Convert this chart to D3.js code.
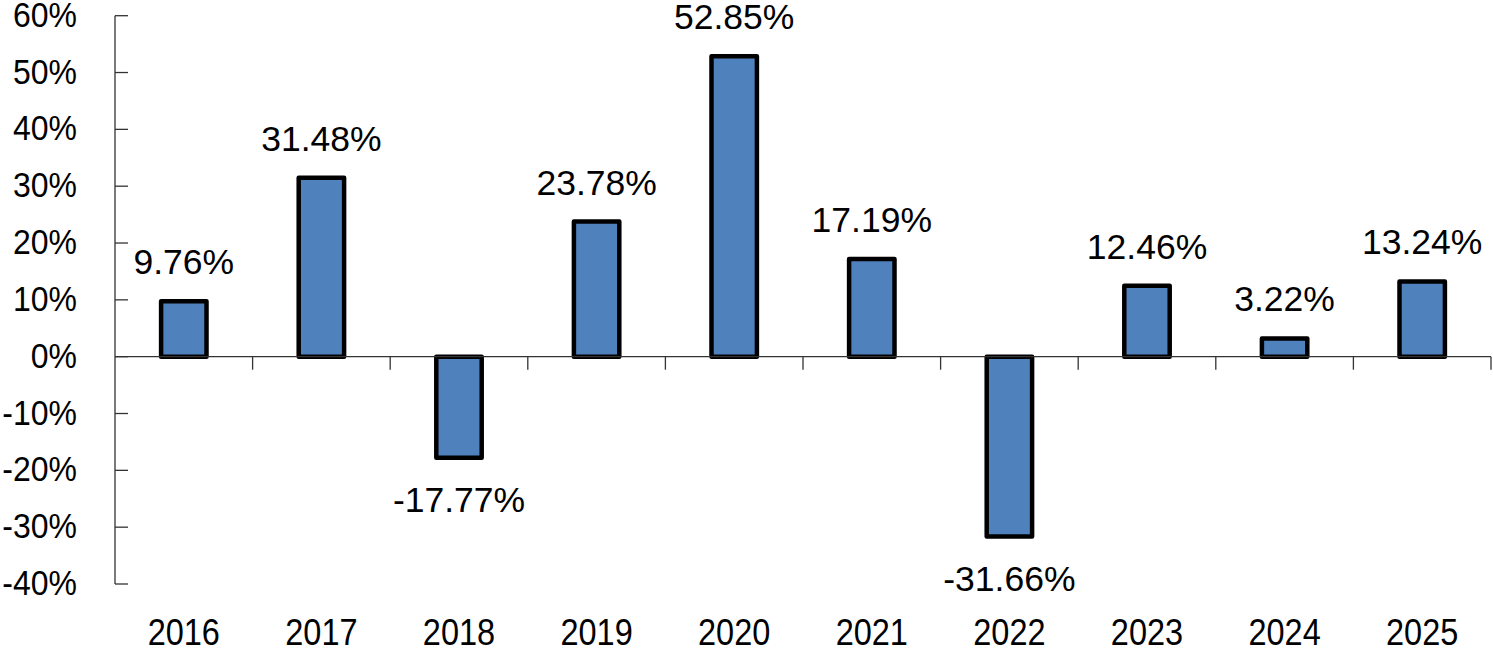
<!DOCTYPE html>
<html>
<head>
<meta charset="utf-8">
<script src="https://cdn.jsdelivr.net/npm/d3@7"></script>
<style>
  html, body { margin: 0; padding: 0; background: #fff; }
  svg { display: block; }
  text { font-family: "Liberation Sans", Arial, sans-serif; fill: #000; }
</style>
</head>
<body>
<svg id="chart" width="1493" height="648"></svg>
<script>
const years = ["2016","2017","2018","2019","2020","2021","2022","2023","2024","2025"];
const returns = [9.76, 31.48, -17.77, 23.78, 52.85, 17.19, -31.66, 12.46, 3.22, 13.24];
const yTicks = [60, 50, 40, 30, 20, 10, 0, -10, -20, -30, -40];

const svg = d3.select("#chart");
const plotLeft = 115, plotRight = 1491, plotTop = 15.7, plotBottom = 584;

const x = d3.scaleBand().domain(years).range([plotLeft, plotRight]).paddingInner(0.67).paddingOuter(0.335);
const xCat = d3.scaleBand().domain(years).range([plotLeft, plotRight]).padding(0);
const y = d3.scaleLinear().domain([-40, 60]).range([plotBottom, plotTop]);

const axisColor = "#333";

// y axis line
svg.append("line").attr("x1", plotLeft).attr("x2", plotLeft).attr("y1", y(60)).attr("y2", y(-40))
  .attr("stroke", axisColor).attr("stroke-width", 1.3);
// y ticks (inside)
svg.append("g").selectAll("line").data(yTicks).join("line")
  .attr("x1", plotLeft).attr("x2", plotLeft + 13)
  .attr("y1", d => y(d)).attr("y2", d => y(d))
  .attr("stroke", axisColor).attr("stroke-width", 1.3);
// y labels
svg.append("g").selectAll("text").data(yTicks).join("text")
  .attr("transform", d => `translate(77,${y(d) + 11}) scale(1,1.12)`)
  .attr("text-anchor", "end")
  .attr("font-size", 32)
  .text(d => d + "%");

// bars
svg.append("g").selectAll("rect").data(returns).join("rect")
  .attr("x", (d, i) => x(years[i]))
  .attr("width", x.bandwidth())
  .attr("y", d => y(Math.max(0, d)))
  .attr("height", d => Math.abs(y(d) - y(0)))
  .attr("fill", "#4f81bd")
  .attr("stroke", "#000")
  .attr("stroke-width", 4.5)
  .attr("stroke-linejoin", "round");

// zero line
svg.append("line").attr("x1", plotLeft).attr("x2", plotRight).attr("y1", y(0)).attr("y2", y(0))
  .attr("stroke", axisColor).attr("stroke-width", 1.3);
// x ticks (downward from zero line) at category boundaries
const xBounds = years.map(d => xCat(d) + xCat.bandwidth());
svg.append("g").selectAll("line").data(xBounds).join("line")
  .attr("x1", d => d).attr("x2", d => d)
  .attr("y1", y(0)).attr("y2", y(0) + 13)
  .attr("stroke", axisColor).attr("stroke-width", 1.3);

// x labels
svg.append("g").selectAll("text").data(years).join("text")
  .attr("transform", d => `translate(${xCat(d) + xCat.bandwidth() / 2},645) scale(1,1.15)`)
  .attr("text-anchor", "middle")
  .attr("font-size", 32.5)
  .text(d => d);

// value labels
svg.append("g").selectAll("text").data(returns).join("text")
  .attr("x", (d, i) => xCat(years[i]) + xCat.bandwidth() / 2)
  .attr("y", d => d >= 0 ? y(d) - 27 : y(d) + 54)
  .attr("text-anchor", "middle")
  .attr("font-size", 35.5)
  .text(d => d.toFixed(2) + "%");
</script>
</body>
</html>
